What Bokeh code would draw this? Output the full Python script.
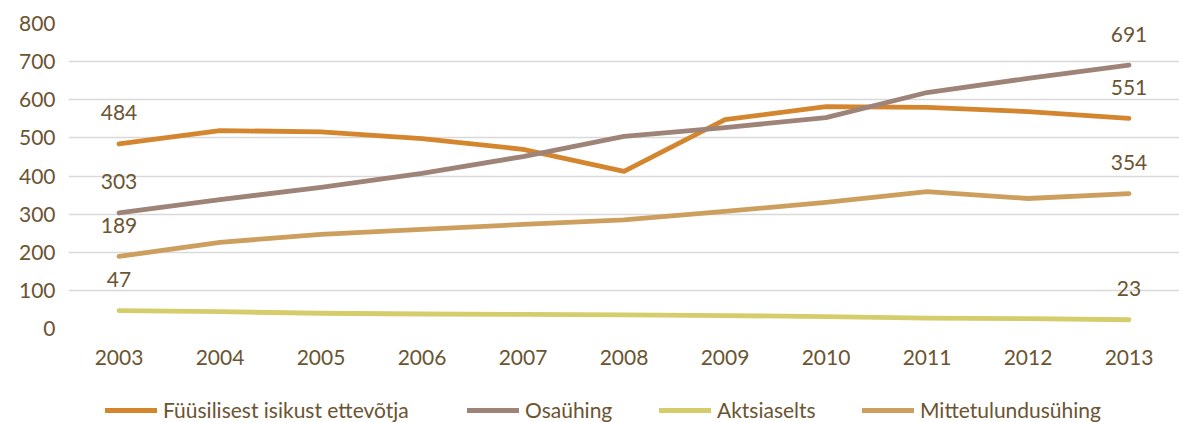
from bokeh.plotting import figure
from bokeh.layouts import column
from bokeh.models import (ColumnDataSource, FactorRange, Range1d, Legend, LegendItem,
                          SingleIntervalTicker)
from bokeh.core.properties import value
from bokeh.embed import file_html
from bokeh.resources import INLINE

years = ["2003", "2004", "2005", "2006", "2007", "2008", "2009", "2010", "2011", "2012", "2013"]
fuusilisest = [484, 519, 516, 498, 470, 412, 548, 582, 580, 569, 551]
osauhing = [303, 338, 370, 407, 451, 504, 527, 553, 619, 656, 691]
aktsiaselts = [47, 44, 40, 38, 37, 36, 34, 31, 27, 26, 23]
mittetulundus = [189, 226, 247, 260, 273, 285, 307, 331, 359, 341, 354]

names = ["Füüsilisest isikust ettevõtja", "Osaühing", "Aktsiaselts", "Mittetulundusühing"]
series = [fuusilisest, osauhing, aktsiaselts, mittetulundus]
colors = ["#D4862F", "#9E8378", "#D5CD6C", "#CC9F5F"]
legend_x = [37, 399, 591, 794]

FONT = "Lato"
TXT = "#6B5431"
NAN = float("nan")

p = figure(frame_width=1111, frame_height=305, x_range=FactorRange(*years), y_range=Range1d(0, 800),
           output_backend="svg", toolbar_location=None,
           min_border_left=68, min_border_right=0, min_border_top=23, min_border_bottom=60)
p.outline_line_color = None
p.background_fill_color = "white"
p.border_fill_color = "white"

# legend strip below the chart
p2 = figure(width=1179, height=34, x_range=Range1d(0, 1), y_range=Range1d(0, 1),
            output_backend="svg", toolbar_location=None, x_axis_type=None, y_axis_type=None,
            min_border_left=0, min_border_right=0, min_border_top=0, min_border_bottom=0)
p2.outline_line_color = None
p2.xgrid.grid_line_color = None
p2.ygrid.grid_line_color = None

for name, vals, col, lx in zip(names, series, colors, legend_x):
    src = ColumnDataSource(dict(x=years, y=vals))
    p.line("x", "y", source=src, line_color=col, line_width=4.8, line_cap="round", line_join="round")
    # data labels at first and last point
    lsrc = ColumnDataSource(dict(x=[years[0], years[-1]], y=[vals[0], vals[-1]],
                                 t=[str(vals[0]), str(vals[-1])]))
    p.text("x", "y", text="t", source=lsrc, y_offset=-31, text_align="center",
           text_baseline="middle", text_color=TXT, text_font=value(FONT),
           text_font_size="21px")
    dummy = p2.line(x=[NAN, NAN], y=[NAN, NAN], line_color=col, line_width=5, line_cap="round")
    leg = Legend(items=[LegendItem(label=name, renderers=[dummy])], location=(lx, 0),
                 orientation="horizontal",
                 label_text_font=FONT, label_text_font_size="21px", label_text_color=TXT,
                 glyph_width=52, glyph_height=20, label_standoff=6,
                 padding=0, margin=0, border_line_color=None, background_fill_alpha=0)
    p2.add_layout(leg)

p.yaxis.ticker = SingleIntervalTicker(interval=100)
for ax in (p.xaxis[0], p.yaxis[0]):
    ax.axis_line_color = None
    ax.major_tick_line_color = None
    ax.minor_tick_line_color = None
    ax.major_label_text_color = TXT
    ax.major_label_text_font = FONT
    ax.major_label_text_font_size = "21px"
p.xaxis.major_label_standoff = 15
p.yaxis.major_label_standoff = 7
p.xgrid.grid_line_color = None
p.ygrid.grid_line_color = "#D9D9D9"
p.ygrid.grid_line_width = 1.5

open("out.html", "w").write(file_html(column(p, p2, spacing=0), INLINE))
